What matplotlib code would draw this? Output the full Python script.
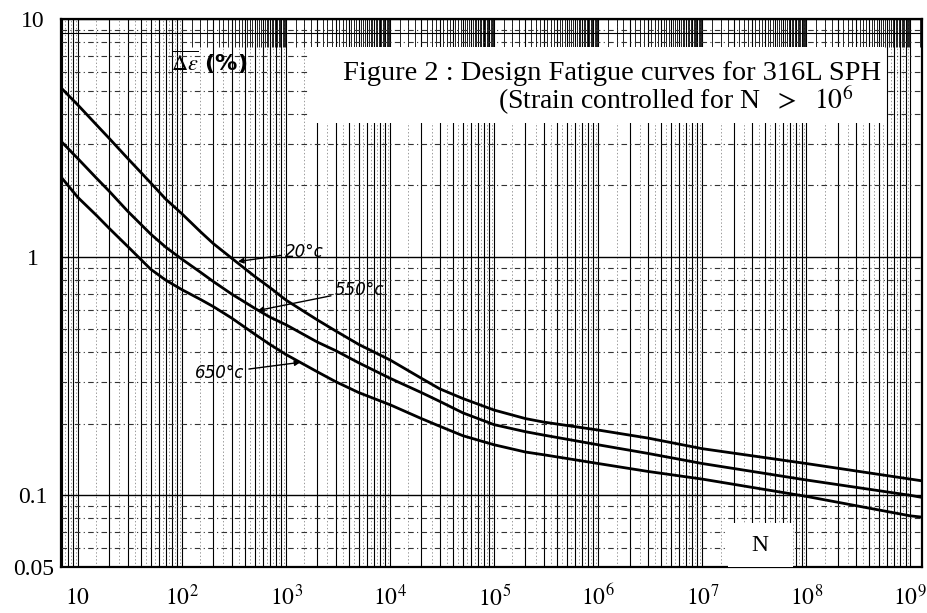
# Design fatigue curves for 316L SPH - log-log strain range vs cycles
import numpy as np
import matplotlib.pyplot as plt
from matplotlib.ticker import FixedLocator, NullFormatter
from matplotlib.patches import Rectangle

plt.rcParams['mathtext.fontset'] = 'stix'

# cycles N and strain range (%)
N = [7, 10, 15, 20, 30, 50, 70, 100, 150, 200, 300, 500, 700, 1e3, 2e3, 3e3, 5e3,
     1e4, 2e4, 3e4, 5e4, 1e5, 2e5, 3e5, 1e6, 3e6, 1e7, 1e8, 1e9, 1.3e9]
strain_20 = [5.1, 4.35, 3.6, 3.15, 2.6, 2.05, 1.75, 1.52, 1.28, 1.14, 0.99, 0.83, 0.745, 0.66,
             0.545, 0.49, 0.43, 0.37, 0.31, 0.28, 0.255, 0.228, 0.21, 0.203, 0.188, 0.174,
             0.157, 0.136, 0.117, 0.115]
strain_550 = [3.04, 2.59, 2.15, 1.89, 1.56, 1.25, 1.10, 0.98, 0.865, 0.79, 0.70, 0.61, 0.56, 0.52,
              0.44, 0.405, 0.36, 0.31, 0.27, 0.248, 0.222, 0.198, 0.185, 0.179, 0.163, 0.150,
              0.136, 0.116, 0.100, 0.098]
strain_650 = [2.15, 1.78, 1.50, 1.32, 1.11, 0.89, 0.80, 0.73, 0.665, 0.62, 0.555, 0.475, 0.43, 0.39,
              0.33, 0.30, 0.27, 0.24, 0.21, 0.195, 0.178, 0.163, 0.152, 0.148, 0.136, 0.126,
              0.117, 0.099, 0.082, 0.081]

x_ticks = [10, 1e2, 1e3, 1e4, 1e5, 1e6, 1e7, 1e8, 1e9]
x_labels = ['$10$', '$10^2$', '$10^3$', '$10^4$', '$10^5$', '$10^6$', '$10^7$', '$10^8$', '$10^9$']
y_ticks = [10, 1, 0.1, 0.05]
y_labels = ['10', '1', '0.1', '0.05']

serif = ['Liberation Serif', 'DejaVu Serif']
hand = 'DejaVu Sans'

fig = plt.figure(figsize=(9.28, 6.13), dpi=100)
ax = fig.add_axes([0.0657, 0.075, 0.928, 0.894])
ax.set_xscale('log')
ax.set_yscale('log')
ax.set_xlim(6.86, 1.3e9)
ax.set_ylim(0.05, 10)

# graph paper rulings
decades = 10.0 ** np.arange(0, 10)
fine = [d * m for d in decades for m in (1.5, 2.5, 3.5, 4.5, 5.5, 6.5, 7.5, 8.5, 9.5)]
ax.vlines(fine, 0.05, 10, colors='0.45', lw=0.5, linestyles=(0, (2, 3)), zorder=1)
# dense band along the top edge of the sheet
band = [d * m for d in decades[2:] for m in np.arange(1.0, 10.0, 0.25)]
ax.vlines(band, 7.6, 10, colors='black', lw=0.6, zorder=1)
ax.hlines([8.7], 6.86, 1.3e9, colors='black', lw=0.8, zorder=1)

ax.xaxis.set_minor_locator(FixedLocator([d * m for d in decades for m in range(2, 10)]))
ax.yaxis.set_minor_locator(FixedLocator([d * m for d in (0.01, 0.1, 1) for m in range(2, 10)]))
ax.xaxis.set_minor_formatter(NullFormatter())
ax.yaxis.set_minor_formatter(NullFormatter())
ax.grid(True, which='both', axis='x', color='black', lw=0.8, zorder=1)
ax.grid(True, which='minor', axis='y', color='0.2', lw=0.8, linestyle=(0, (5, 3, 1, 3)), zorder=1)
ax.grid(True, which='major', axis='y', color='black', lw=1.0, zorder=1)

ax.set_xticks(x_ticks)
ax.set_xticklabels(x_labels, fontsize=17)
ax.set_yticks(y_ticks)
ax.set_yticklabels(y_labels, fontsize=17, family=serif, ha='center')
ax.tick_params(which='both', length=0)
ax.tick_params(axis='x', pad=13)
ax.tick_params(axis='y', pad=20)
for s in ax.spines.values():
    s.set_linewidth(1.6)

for vals in (strain_20, strain_550, strain_650):
    ax.plot(N, vals, color='black', lw=2.0, zorder=4)

# title box
ax.add_patch(Rectangle((0.289, 0.810), 0.668, 0.139, transform=ax.transAxes,
                       facecolor='white', edgecolor='none', zorder=5))
ax.text(0.3275, 0.900, 'Figure 2 : Design Fatigue curves for 316L SPH',
        transform=ax.transAxes, fontsize=20.5, family=serif, va='center', ha='left', zorder=6)
ax.text(0.5075, 0.852, r'(Strain controlled for N  $>$  $10^6$',
        transform=ax.transAxes, fontsize=20, family=serif, va='center', ha='left', zorder=6)

ax.text(0.128, 0.905, r'$\overline{\Delta\varepsilon}$ (%)', transform=ax.transAxes,
        fontsize=16, family=hand, fontweight='bold', zorder=6)

# N label box
ax.add_patch(Rectangle((0.775, 0.0), 0.075, 0.08, transform=ax.transAxes,
                       facecolor='white', edgecolor='none', zorder=5))
ax.text(0.812, 0.04, 'N', transform=ax.transAxes, fontsize=17, family=serif,
        ha='center', va='center', zorder=6)

# hand-written curve labels
arrow = dict(arrowstyle='-|>', color='black', lw=1.0, mutation_scale=8, shrinkA=1)
ax.annotate('20°c', xy=(324, 0.955), xytext=(980, 1.05), fontsize=12, family=hand,
            style='italic', va='center', ha='left', zorder=6, arrowprops=arrow)
ax.annotate('550°c', xy=(504, 0.594), xytext=(2960, 0.728), fontsize=12, family=hand,
            style='italic', va='center', ha='left', zorder=6, arrowprops=arrow)
ax.annotate('650°c', xy=(1456, 0.363), xytext=(232, 0.327), fontsize=12, family=hand,
            style='italic', va='center', ha='center', zorder=6, arrowprops=arrow)

fig.savefig('out.png', dpi=100)
